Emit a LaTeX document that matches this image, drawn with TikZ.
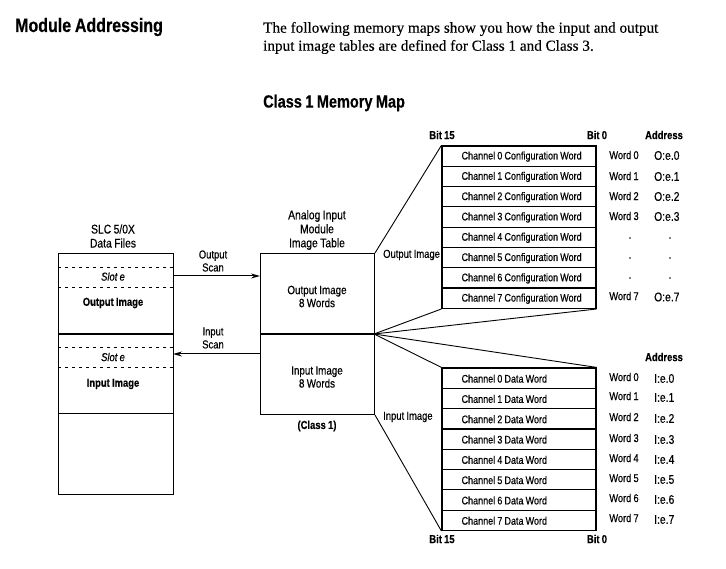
\documentclass[tikz,border=0pt]{standalone}
\usepackage{fontspec}
\setmainfont{Liberation Serif}[FakeBold=0.25]
\newfontfamily\nar{Liberation Sans}[FakeStretch=0.82,WordSpace=0.85,FakeBold=0.4]
\usetikzlibrary{arrows.meta}
\begin{document}
\begin{tikzpicture}[x=1pt,y=-1pt,
  lbl/.style={font=\nar\fontsize{11.5}{13}\selectfont, inner sep=0pt, align=center},
  hlbl/.style={font=\nar\fontsize{12.6}{14}\selectfont, inner sep=0pt, align=center},
  blbl/.style={font=\nar\bfseries\fontsize{11.5}{13}\selectfont, inner sep=0pt, align=center},
  box/.style={draw, line width=1pt, inner sep=0pt},
  row/.style={draw, line width=1.2pt, minimum width=154pt, minimum height=20.3pt, inner sep=0pt},
  rtxt/.style={font=\nar\fontsize{11}{12}\selectfont, inner sep=0pt, anchor=west},
  fan/.style={line width=0.9pt},
  arr/.style={line width=1pt, -{Stealth[length=9pt,width=5pt]}},
  dsh/.style={dash pattern=on 3pt off 4pt, line width=0.8pt},
  wrd/.style={font=\nar\fontsize{11.3}{12}\selectfont, inner sep=0pt},
  addr/.style={font=\nar\fontsize{12.6}{13}\selectfont, inner sep=0pt, anchor=west}
]
\useasboundingbox (0,0) rectangle (726,569);
% header
\node[anchor=west, inner sep=0pt, font=\nar\bfseries\fontsize{19.5}{22}\selectfont] (title) at (15,27) {Module Addressing};
\node[anchor=west, inner sep=0pt, font=\fontsize{15.2}{18}\selectfont] (intro1) at (263,29)
  {The following memory maps show you how the input and output};
\node[anchor=west, inner sep=0pt, font=\fontsize{15.2}{18}\selectfont] (intro2) at (263,47)
  {input image tables are defined for Class 1 and Class 3.};
\node[anchor=west, inner sep=0pt, font=\nar\bfseries\fontsize{17.7}{19}\selectfont] (sub) at (263,103) {Class 1 Memory Map};

% left box
\node[box, minimum width=115pt, minimum height=241pt, anchor=north west] (slc) at (58,253) {};
\coordinate (d1l) at (58,267); \coordinate (d1r) at (173,267);
\coordinate (d2l) at (58,287); \coordinate (d2r) at (173,287);
\coordinate (d3l) at (58,347); \coordinate (d3r) at (173,347);
\coordinate (d4l) at (58,367); \coordinate (d4r) at (173,367);
\coordinate (s1l) at (58,334); \coordinate (s1r) at (173,334);
\coordinate (s2l) at (58,414); \coordinate (s2r) at (173,414);
\draw[dsh] (d1l) -- (d1r); \draw[dsh] (d2l) -- (d2r);
\draw[dsh] (d3l) -- (d3r); \draw[dsh] (d4l) -- (d4r);
\draw[line width=1.6pt] (s1l) -- (s1r);
\draw[line width=1pt] (s2l) -- (s2r);
\node[hlbl] (slchead) at (113,236) {SLC 5/0X\\Data Files};
\node[lbl, font=\nar\itshape\fontsize{11.5}{13}\selectfont] (slot1) at (113,276.5) {Slot e};
\node[blbl] (oimg) at (113,303) {Output Image};
\node[lbl, font=\nar\itshape\fontsize{11.5}{13}\selectfont] (slot2) at (113,357) {Slot e};
\node[blbl] (iimg) at (113,384) {Input Image};

% middle box
\node[box, minimum width=114pt, minimum height=161pt, anchor=north west] (mid) at (260,253) {};
\coordinate (mdl) at (260,334); \coordinate (mdr) at (374,334);
\draw[line width=1.6pt] (mdl) -- (mdr);
\node[hlbl] (midhead) at (317,230) {Analog Input\\Module\\Image Table};
\node[lbl, font=\nar\fontsize{12}{13}\selectfont] (moimg) at (317,296.5) {Output Image\\8 Words};
\node[lbl, font=\nar\fontsize{12}{13}\selectfont] (miimg) at (317,377) {Input Image\\8 Words};
\node[blbl] (cls) at (317,426) {(Class 1)};

% scan arrows
\coordinate (oa1) at (173,276); \coordinate (oa2) at (260,276);
\coordinate (ia1) at (260,354); \coordinate (ia2) at (173,354);
\draw[arr] (oa1) -- (oa2);
\draw[arr] (ia1) -- (ia2);
\node[lbl] (oscan) at (213,261) {Output\\Scan};
\node[lbl] (iscan) at (213,338) {Input\\Scan};

% output table
\foreach \i in {0,...,7} {
  \node[row] (o\i) at (519,{156.15+20.3*\i}) {};
  \node[rtxt] (ot\i) at ([xshift=20pt,yshift=-0.5pt]o\i.west) {Channel \i{} Configuration Word};
}
% input table
\foreach \i in {0,...,7} {
  \node[row] (n\i) at (519,{378.15+20.3*\i}) {};
  \node[rtxt] (nt\i) at ([xshift=20pt,yshift=-0.5pt]n\i.west) {Channel \i{} Data Word};
}

% fan lines
\draw[fan] (mid.north east) -- (o0.north west);
\draw[fan] (mdr) -- (o7.south west);
\draw[fan] (mdr) -- (o7.south east);
\draw[fan] (mdr) -- (n0.north west);
\draw[fan] (mdr) -- (n0.north east);
\draw[fan] (mid.south east) -- (n7.south west);

\node[lbl, anchor=west] (olab) at (383,255) {Output Image};
\node[lbl, anchor=west] (ilab) at (383,417) {Input Image};

% bit/address headers
\node[blbl] (b15a) at (442,135) {Bit 15};
\node[blbl] (b0a) at (597,135) {Bit 0};
\node[blbl] (adra) at (664,135) {Address};
\node[blbl] (adrb) at (664,357) {Address};
\node[blbl] (b15b) at (442,539) {Bit 15};
\node[blbl] (b0b) at (597,539) {Bit 0};

% output words
\foreach \i/\y in {0/155,1/176,2/196,3/216} {
  \node[wrd] (ow\i) at (624,\y) {Word \i};
  \node[addr] (oa\i) at (654,{\y+0.5}) {O:e.\i};
}
\foreach \y [count=\k] in {238,258,278} {
  \fill (630,\y) circle (0.9pt);
  \fill (670,\y) circle (0.9pt);
}
\node[wrd] (ow7) at (624,296) {Word 7};
\node[addr] (oa7) at (654,297) {O:e.7};

% input words
\foreach \i/\y in {0/377,1/396,2/417,3/438,4/458,5/478,6/498,7/518} {
  \node[wrd] (iw\i) at (624,\y) {Word \i};
  \node[addr] (ia\i) at (654,{\y+1.5}) {I:e.\i};
}
\end{tikzpicture}
\end{document}
